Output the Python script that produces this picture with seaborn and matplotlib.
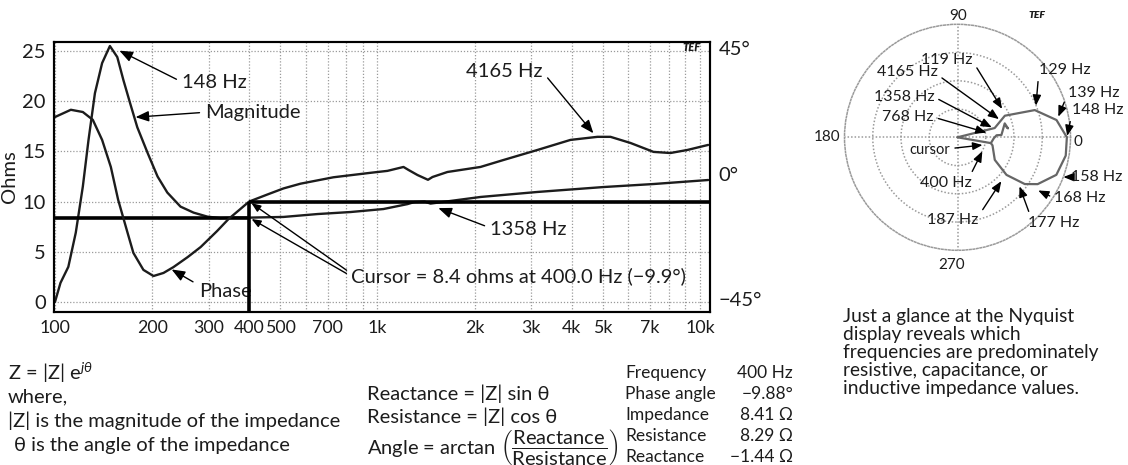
import numpy as np
import matplotlib
matplotlib.use("Agg")
import matplotlib.pyplot as plt
import seaborn as sns

# ---------------- data ----------------
mag_freq = [100, 104, 110, 116, 122, 127, 133, 140, 148, 156, 163, 171, 180, 194, 208, 223,
            245, 269, 297, 326, 358, 400, 425, 511, 652, 825, 1044, 1239, 1300, 1400, 1460,
            2086, 3135, 5022, 7175, 10600]
mag_ohms = [0.0, 1.9, 3.5, 6.9, 11.5, 16.1, 20.8, 23.8, 25.5, 24.4, 22.1, 19.8, 17.4, 14.8, 12.5, 10.9,
            9.5, 8.9, 8.5, 8.35, 8.4, 8.4, 8.42, 8.47, 8.76, 8.96, 9.26, 9.75, 9.95, 10.0, 9.8,
            10.46, 10.96, 11.45, 11.75, 12.15]

phase_freq = [100, 112, 122, 131, 140, 149, 157, 168, 175, 188, 202, 217, 233, 258, 283, 318, 345,
              372, 400, 455, 511, 577, 730, 951, 1074, 1204, 1249, 1331, 1434, 1481, 1648, 2086,
              2459, 3135, 3966, 4810, 5278, 6088, 7175, 8097, 9144, 10600]
phase_deg = [20.4, 23.0, 22.2, 19.4, 12.2, 2.5, -9.3, -21.2, -28.3, -34.4, -36.6, -35.5, -33.4, -29.8,
             -26.2, -20.5, -16.2, -13.0, -9.9, -7.4, -5.2, -3.5, -1.2, 0.4, 1.1, 2.5, 1.4, -0.4,
             -2.1, -1.1, 0.7, 2.5, 5.0, 8.6, 12.2, 13.3, 13.3, 11.1, 7.9, 7.5, 8.6, 10.4]

cursor_freq = 400.0
cursor_ohms = 8.4
cursor_deg = -9.9

x_ticks = [100, 200, 300, 400, 500, 700, 1000, 2000, 3000, 4000, 5000, 7000, 10000]
x_tick_labels = ["100", "200", "300", "400", "500", "700", "1k", "2k", "3k", "4k", "5k", "7k", "10k"]
ohm_ticks = [0, 5, 10, 15, 20, 25]
deg_ticks = [-45, 0, 45]
deg_tick_labels = ["\u221245°", "0°", "45°"]

nyq_freq = [100, 110, 119, 129, 139, 148, 158, 168, 172, 177, 187, 200, 300, 400,
            768, 1358, 2000, 4165, 7000, 10000]
nyq_ohms = [0.0, 9.5, 12.9, 20.3, 24.9, 27.1, 27.2, 26.2, 23.0, 20.3, 15.3, 10.8, 8.9, 8.4,
            9.0, 9.7, 10.9, 12.2, 12.7, 12.4]
nyq_deg = [0, 14, 24.5, 19.4, 9.9, 0, -9.6, -20.8, -30.3, -34.8, -37.5, -31.2, -13, -9.9,
           -1.5, 3.0, 3.0, 16.4, 10.0, 12.0]
polar_rings = [7, 14, 21, 28]
polar_angles = [0, 90, 180, 270]

# polar annotation labels: (text, angle of arrow tip, radius of arrow tip)
nyq_labels = [("119 Hz", 31.0, 13.1), ("129 Hz", 21.1, 20.8), ("139 Hz", 10.9, 25.3),
              ("148 Hz", 0.0, 27.1), ("158 Hz", -20.8, 27.7), ("168 Hz", -33.5, 23.6),
              ("177 Hz", -37.8, 19.3), ("187 Hz", -43.8, 15.3), ("400 Hz", -26.5, 7.05),
              ("cursor", -16.0, 6.8), ("768 Hz", 8.0, 7.6), ("1358 Hz", 14.7, 9.1),
              ("4165 Hz", 22.2, 11.4)]

table_labels = ["Frequency", "Phase angle", "Impedance", "Resistance", "Reactance"]
table_values = ["400 Hz", "\u22129.88°", "8.41 \u03a9", "8.29 \u03a9", "\u22121.44 \u03a9"]

caption = ("Just a glance at the Nyquist\ndisplay reveals which\nfrequencies are predominately\n"
           "resistive, capacitance, or\ninductive impedance values.")

# ---------------- style ----------------
sns.set_style("white")
plt.rcParams["font.family"] = ["Lato", "DejaVu Sans"]
plt.rcParams["mathtext.fontset"] = "custom"
plt.rcParams["mathtext.rm"] = "Lato"
plt.rcParams["mathtext.it"] = "Lato:italic"
plt.rcParams["mathtext.bf"] = "Lato:bold"
plt.rcParams["axes.unicode_minus"] = True

INK = "#1c1c1c"
GRID = "#9a9a9a"
W, H = 1128, 465

fig = plt.figure(figsize=(W / 100, H / 100), dpi=100)


def px_rect(l, t, r, b):
    return [l / W, 1 - b / H, (r - l) / W, (b - t) / H]


# ---------------- main Bode plot ----------------
ax = fig.add_axes(px_rect(54, 42, 710, 312))
ax.set_xscale("log")
ax2 = ax.twinx()

sns.lineplot(x=mag_freq, y=mag_ohms, ax=ax, color=INK, lw=1.7, sort=False, estimator=None)
sns.lineplot(x=phase_freq, y=phase_deg, ax=ax2, color=INK, lw=1.7, sort=False, estimator=None)

ax.set_xlim(99.3, 10740)
ax.set_ylim(-1.0, 25.9)
ax2.set_ylim(-49.5, 47.3)

# cursor lines
ax.hlines(cursor_ohms, ax.get_xlim()[0], cursor_freq, color="black", lw=2.6, zorder=5)
ax2.hlines(cursor_deg, cursor_freq, ax.get_xlim()[1], color="black", lw=2.6, zorder=5)
ax2.vlines(cursor_freq, ax2.get_ylim()[0], cursor_deg, color="black", lw=2.6, zorder=5)

ax.set_xticks(x_ticks)
ax.set_xticklabels(x_tick_labels)
ax.xaxis.set_minor_locator(matplotlib.ticker.LogLocator(base=10, subs=np.arange(2, 10)))
ax.xaxis.set_minor_formatter(matplotlib.ticker.NullFormatter())
ax.set_yticks(ohm_ticks)
ax2.set_yticks(deg_ticks)
ax2.set_yticklabels(deg_tick_labels)

ax.grid(which="both", axis="x", ls=(0, (1, 1.5)), color=GRID, lw=0.9)
ax.grid(which="major", axis="y", ls=(0, (1, 1.5)), color=GRID, lw=0.9)
ax2.grid(False)

ax.tick_params(axis="both", which="both", length=0, colors=INK)
ax.tick_params(axis="x", pad=6, labelsize=12.8)
ax.tick_params(axis="y", pad=6, labelsize=14.5)
ax2.tick_params(axis="y", length=0, labelsize=14.5, pad=6, colors=INK)
ax.set_ylabel("Ohms", fontsize=14.5, color=INK, labelpad=3)
ax.set_xlabel("")

for a in (ax, ax2):
    for s in a.spines.values():
        s.set_color("black")
        s.set_linewidth(1.5)

ax.text(0.972, 0.978, "TEF", transform=ax.transAxes, fontsize=8, fontweight="heavy",
        style="italic", ha="center", va="center", color=INK)

arrow = dict(arrowstyle="-|>,head_length=0.55,head_width=0.22", color="black", lw=1.0,
             shrinkA=2, shrinkB=1)

ax.annotate("148 Hz", xy=(157, 25.1), xytext=(248, 21.9), fontsize=14.5, ha="left", va="center",
            color=INK, arrowprops=dict(arrow, relpos=(0, 0.5)))
ax.annotate("Magnitude", xy=(176, 18.4), xytext=(293, 18.9), fontsize=14.5, ha="left", va="center",
            color=INK, arrowprops=dict(arrow, relpos=(0, 0.5)))
ax2.annotate("Phase", xy=(228, -34.0), xytext=(279, -42.3), fontsize=14.5, ha="left", va="center",
             color=INK, arrowprops=dict(arrow, relpos=(0, 0.9)))
ax2.annotate("4165 Hz", xy=(4700, 14.2), xytext=(3250, 36.6), fontsize=14.5, ha="right", va="center",
             color=INK, arrowprops=dict(arrow, relpos=(1, 0.5)))
ax.annotate("1358 Hz", xy=(1530, 9.4), xytext=(2240, 7.2), fontsize=14.5, ha="left", va="center",
            color=INK, arrowprops=dict(arrow, relpos=(0, 0.6)))

ax.text(825, 2.6, "Cursor = 8.4 ohms at 400.0 Hz (\u22129.9°)", fontsize=14.5, ha="left",
        va="center", color=INK)
ax.annotate("", xy=(cursor_freq, cursor_ohms), xytext=(815, 2.7), textcoords="data",
            arrowprops=dict(arrow, shrinkB=2))
ax.annotate("", xy=(cursor_freq, cursor_deg), xycoords=ax2.transData, xytext=(815, 3.0),
            textcoords=ax.transData, arrowprops=dict(arrow, shrinkB=2))

# ---------------- Nyquist (polar) plot ----------------
pax = fig.add_axes(px_rect(844.5, 24.3, 1070.5, 250.3), projection="polar")
sns.lineplot(x=np.deg2rad(nyq_deg), y=nyq_ohms, ax=pax, color="#666666", lw=1.6,
             sort=False, estimator=None)
sns.lineplot(x=np.deg2rad([0, cursor_deg]), y=[0, cursor_ohms], ax=pax, color="#666666",
             lw=1.6, sort=False, estimator=None)
pax.set_ylim(0, polar_rings[-1])
pax.set_rticks(polar_rings[:-1])
pax.set_yticklabels([])
pax.set_thetagrids(polar_angles, labels=[""] * len(polar_angles))
pax.grid(True, ls=(0, (1, 1.3)), color=GRID, lw=1.1)
pax.spines["polar"].set_linestyle((0, (1, 1.3)))
pax.spines["polar"].set_color(GRID)
pax.spines["polar"].set_linewidth(1.1)
pax.set_xlabel("")
pax.set_ylabel("")
pax.tick_params(length=0)

for lab, (fx, fy) in zip(["0", "90", "180", "270"],
                         [(1.035, 0.479), (0.502, 1.037), (-0.078, 0.501), (0.476, -0.065)]):
    pax.text(fx, fy, lab, transform=pax.transAxes, fontsize=11, ha="center", va="center",
             color=INK)
pax.text(0.852, 1.041, "TEF", transform=pax.transAxes, fontsize=7.5, fontweight="heavy",
         style="italic", ha="center", va="center", color=INK)

label_pos = {"119 Hz": ((0.454, 0.842), (1, 0.4)), "129 Hz": ((0.975, 0.798), (0, 0.5)),
             "139 Hz": ((1.103, 0.696), (0, 0.5)), "148 Hz": ((1.121, 0.621), (0, 0.3)),
             "158 Hz": ((1.117, 0.324), (0, 0.5)), "168 Hz": ((1.042, 0.231), (0, 0.5)),
             "177 Hz": ((0.927, 0.121), (0.05, 0.9)), "187 Hz": ((0.480, 0.134), (1, 0.8)),
             "400 Hz": ((0.449, 0.298), (0.95, 0.9)), "cursor": ((0.378, 0.444), (1, 0.6)),
             "768 Hz": ((0.281, 0.589), (1, 0.5)), "1358 Hz": ((0.263, 0.678), (1, 0.5)),
             "4165 Hz": ((0.277, 0.789), (1, 0.3))}
for text, th, r in nyq_labels:
    (fx, fy), rp = label_pos[text]
    pax.annotate(text, xy=(np.deg2rad(th), r), xytext=(fx, fy), textcoords="axes fraction",
                 fontsize=10.5 if text == "cursor" else 11.5, ha="center", va="center", color=INK,
                 arrowprops=dict(arrow, relpos=rp, shrinkA=1))

fig.text(843 / W, 1 - 308 / H, caption, fontsize=13.8, ha="left", va="top", color=INK,
         linespacing=1.08)

# ---------------- formulas and table ----------------
left_lines = [(8, 373, r"Z = |Z| e$^{j\theta}$"), (8, 397, "where,"),
              (8, 421, "|Z| is the magnitude of the impedance"),
              (14, 445, "\u03b8 is the angle of the impedance")]
for x, y, t in left_lines:
    fig.text(x / W, 1 - y / H, t, fontsize=14.5, ha="left", va="center", color=INK)

mid_lines = [(367, 394, "Reactance = |Z| sin \u03b8"), (367, 417, "Resistance = |Z| cos \u03b8"),
             (367, 447, r"Angle = arctan $\left(\dfrac{\mathrm{Reactance}}{\mathrm{Resistance}}\right)$")]
for x, y, t in mid_lines:
    fig.text(x / W, 1 - y / H, t, fontsize=14.5, ha="left", va="center", color=INK)

for i, (lab, val) in enumerate(zip(table_labels, table_values)):
    y = 373 + i * 21
    fig.text(625 / W, 1 - y / H, lab, fontsize=12.5, ha="left", va="center", color=INK)
    fig.text(793 / W, 1 - y / H, val, fontsize=12.5, ha="right", va="center", color=INK)

fig.savefig("out.png", dpi=100)
